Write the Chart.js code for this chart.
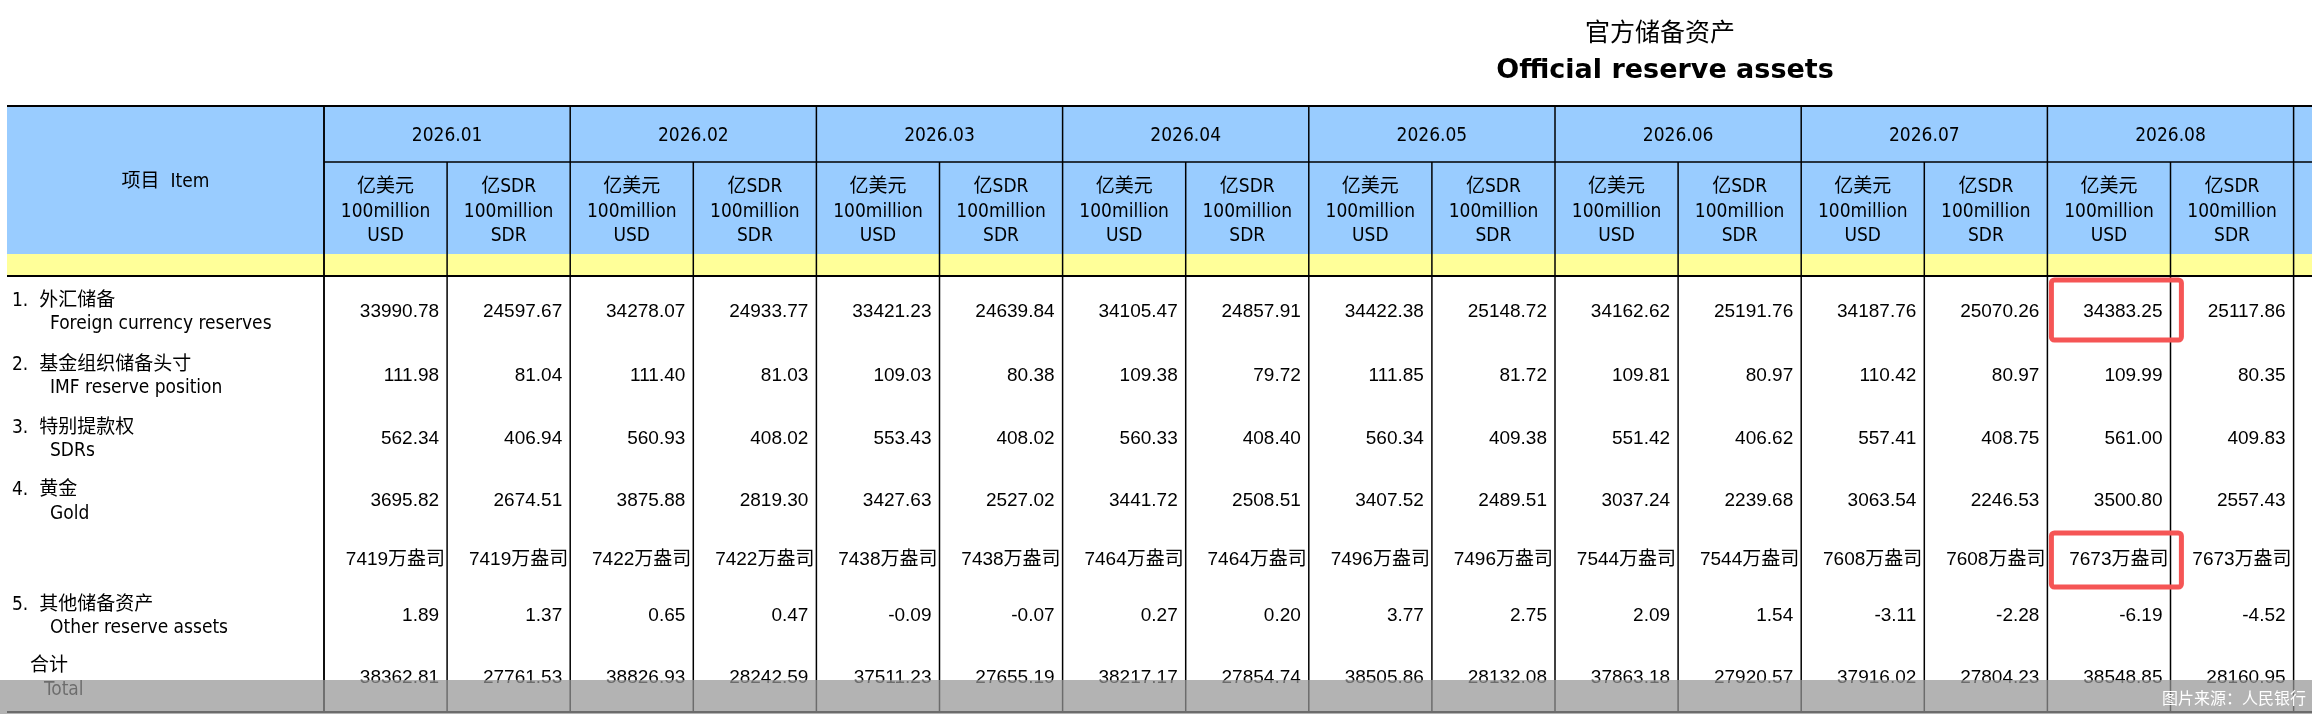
<!DOCTYPE html>
<html>
<head>
<meta charset="utf-8">
<script src="https://cdn.jsdelivr.net/npm/chart.js@4/dist/chart.umd.min.js"></script>
<style>
  body { margin: 0; background: #fff; }
  canvas { display: block; }
</style>
</head>
<body>
<canvas id="chart" width="2312" height="714"></canvas>
<script>
const months = ['2026.01', '2026.02', '2026.03', '2026.04', '2026.05', '2026.06', '2026.07', '2026.08'];
const fxUsd = [33990.78, 34278.07, 33421.23, 34105.47, 34422.38, 34162.62, 34187.76, 34383.25];
const fxSdr = [24597.67, 24933.77, 24639.84, 24857.91, 25148.72, 25191.76, 25070.26, 25117.86];
const imfUsd = [111.98, 111.40, 109.03, 109.38, 111.85, 109.81, 110.42, 109.99];
const imfSdr = [81.04, 81.03, 80.38, 79.72, 81.72, 80.97, 80.97, 80.35];
const sdrsUsd = [562.34, 560.93, 553.43, 560.33, 560.34, 551.42, 557.41, 561.00];
const sdrsSdr = [406.94, 408.02, 408.02, 408.40, 409.38, 406.62, 408.75, 409.83];
const goldUsd = [3695.82, 3875.88, 3427.63, 3441.72, 3407.52, 3037.24, 3063.54, 3500.80];
const goldSdr = [2674.51, 2819.30, 2527.02, 2508.51, 2489.51, 2239.68, 2246.53, 2557.43];
const goldOz = [7419, 7422, 7438, 7464, 7496, 7544, 7608, 7673];
const otherUsd = [1.89, 0.65, -0.09, 0.27, 3.77, 2.09, -3.11, -6.19];
const otherSdr = [1.37, 0.47, -0.07, 0.20, 2.75, 1.54, -2.28, -4.52];
const totalUsd = [38362.81, 38826.93, 37511.23, 38217.17, 38505.86, 37863.18, 37916.02, 38548.85];
const totalSdr = [27761.53, 28242.59, 27655.19, 27854.74, 28132.08, 27920.57, 27804.23, 28160.95];
const rowLabelsCn = ['1.  外汇储备', '2.  基金组织储备头寸', '3.  特别提款权', '4.  黄金', '', '5.  其他储备资产', '合计'];
const rowLabelsEn = ['Foreign currency reserves', 'IMF reserve position', 'SDRs', 'Gold', '', 'Other reserve assets', 'Total'];

// rows of the body: [usd, sdr, format]
const bodyRows = [
  [fxUsd, fxSdr, 'num'],
  [imfUsd, imfSdr, 'num'],
  [sdrsUsd, sdrsSdr, 'num'],
  [goldUsd, goldSdr, 'num'],
  [goldOz, goldOz, 'oz'],
  [otherUsd, otherSdr, 'num'],
  [totalUsd, totalSdr, 'num']
];

// layout (in canvas units)
const TABLE_L = 7, ITEM_R = 324, MONTH_W = 246.2;
const Y_TOP = 106, Y_H1 = 162, Y_H2 = 254, Y_YEL = 276, Y_BOT = 712;
const rowY = [312, 376, 439, 501, 560, 616, 678];
const labelOff = [[-11, 12], [-11, 12], [-11, 12], [-11, 13], null, [-11, 12], [-12, 12]];
const highlights = [[7, 0], [7, 4]]; // [month index, body row], usd column

const points = [];
months.forEach((m, i) => {
  bodyRows.forEach((r, j) => {
    points.push({ x: ITEM_R + MONTH_W * i + MONTH_W / 4, y: rowY[j] });
    points.push({ x: ITEM_R + MONTH_W * i + MONTH_W * 3 / 4, y: rowY[j] });
  });
});

const NUM_FONT = '"Liberation Sans", Arial, sans-serif';
const HEAD_FONT = '"DejaVu Sans Condensed", "DejaVu Sans", "Noto Sans CJK SC", sans-serif';
const CJK = '"Noto Sans CJK SC", sans-serif';

const tablePlugin = {
  id: 'table',
  beforeDatasetsDraw(chart) {
    const ctx = chart.ctx;
    const sx = chart.scales.x, sy = chart.scales.y;
    const X = v => sx.getPixelForValue(v);
    const Y = v => sy.getPixelForValue(v);
    const right = X(2312);
    const monthL = i => X(ITEM_R + MONTH_W * i);

    ctx.save();
    // backgrounds
    ctx.fillStyle = '#99ccff';
    ctx.fillRect(X(TABLE_L), Y(Y_TOP), right - X(TABLE_L), Y(Y_H2) - Y(Y_TOP));
    ctx.fillStyle = '#ffff99';
    ctx.fillRect(X(TABLE_L), Y(Y_H2), right - X(TABLE_L), Y(Y_YEL) - Y(Y_H2));

    // lines
    ctx.strokeStyle = '#000';
    ctx.lineWidth = 2;
    const hline = (y, x0, x1) => { ctx.beginPath(); ctx.moveTo(x0, Y(y)); ctx.lineTo(x1, Y(y)); ctx.stroke(); };
    const vline = (x, y0, y1) => { ctx.beginPath(); ctx.moveTo(X(x), Y(y0)); ctx.lineTo(X(x), Y(y1)); ctx.stroke(); };
    hline(Y_TOP, X(TABLE_L), right);
    hline(Y_YEL, X(TABLE_L), right);
    hline(Y_BOT, X(TABLE_L), right);
    ctx.lineWidth = 1.5;
    hline(Y_H1, monthL(0), right);
    vline(ITEM_R, Y_TOP, Y_BOT);
    for (let i = 0; i <= months.length; i++) {
      vline(ITEM_R + MONTH_W * i, Y_TOP, Y_BOT);
      if (i < months.length) vline(ITEM_R + MONTH_W * i + MONTH_W / 2, Y_H1, Y_BOT);
    }

    // header text
    ctx.fillStyle = '#000';
    ctx.textAlign = 'center';
    ctx.textBaseline = 'middle';
    ctx.font = '19px ' + HEAD_FONT;
    ctx.fillText('项目  Item', X((TABLE_L + ITEM_R) / 2), Y(182));
    months.forEach((m, i) => {
      const l = ITEM_R + MONTH_W * i;
      ctx.font = '19px ' + HEAD_FONT;
      ctx.fillText(m, X(l + MONTH_W / 2), Y(136));
      [['亿美元', 'USD'], ['亿SDR', 'SDR']].forEach(([a, b], k) => {
        const cx = X(l + MONTH_W / 4 + k * MONTH_W / 2);
        ctx.fillText(a, cx, Y(187));
        ctx.fillText('100million', cx, Y(212));
        ctx.fillText(b, cx, Y(236));
      });
    });

    // row labels
    ctx.textAlign = 'left';
    rowLabelsCn.forEach((t, j) => {
      if (!labelOff[j]) return;
      const cnX = j === 6 ? 30 : 12, enX = j === 6 ? 44 : 50;
      ctx.font = '19px ' + HEAD_FONT;
      ctx.fillText(t, X(cnX), Y(rowY[j] + labelOff[j][0]));
      ctx.fillText(rowLabelsEn[j], X(enX), Y(rowY[j] + labelOff[j][1]));
    });

    // values
    ctx.textAlign = 'right';
    months.forEach((m, i) => {
      bodyRows.forEach(([usd, sdr, fmt], j) => {
        [usd, sdr].forEach((arr, k) => {
          const r = ITEM_R + MONTH_W * i + MONTH_W / 2 * (k + 1);
          const v = arr[i];
          if (fmt === 'oz') {
            ctx.font = '19px ' + NUM_FONT + ', ' + CJK;
            ctx.fillText(v + '万盎司', X(r - 2), Y(rowY[j]));
          } else {
            ctx.font = '19px ' + NUM_FONT;
            ctx.fillText(v.toFixed(2), X(r - 8), Y(rowY[j]));
          }
        });
      });
    });

    // red highlight boxes
    ctx.strokeStyle = '#f55555';
    ctx.lineWidth = 5;
    highlights.forEach(([i, j]) => {
      const l = ITEM_R + MONTH_W * i;
      const h = j === 0 ? 60 : 54;
      ctx.beginPath();
      ctx.roundRect(X(l + 4), Y(rowY[j] - h / 2 - (j === 0 ? 2 : 0)), X(l + 134) - X(l + 4), Y(rowY[j] + h / 2) - Y(rowY[j] - h / 2), 3);
      ctx.stroke();
    });

    // footer bar
    ctx.fillStyle = 'rgba(150,150,150,0.72)';
    ctx.fillRect(0, Y(680), right, Y(714) - Y(680));
    ctx.fillStyle = '#fff';
    ctx.font = '16px ' + CJK;
    ctx.textAlign = 'right';
    ctx.fillText('图片来源：人民银行', X(2306), Y(698));

    // title
    ctx.fillStyle = '#000';
    ctx.textAlign = 'center';
    ctx.font = '25px ' + CJK;
    ctx.fillText('官方储备资产', X(1660), Y(31));
    ctx.font = 'bold 27px "DejaVu Sans", sans-serif';
    ctx.fillText('Official reserve assets', X(1665), Y(71));
    ctx.restore();
  }
};

new Chart(document.getElementById('chart'), {
  type: 'scatter',
  data: { datasets: [{ data: points, pointRadius: 0 }] },
  options: {
    responsive: false,
    animation: false,
    devicePixelRatio: 1,
    layout: { padding: 0 },
    plugins: { legend: { display: false }, tooltip: { enabled: false } },
    scales: {
      x: { type: 'linear', min: 0, max: 2312, display: false },
      y: { type: 'linear', min: 0, max: 714, reverse: true, display: false }
    }
  },
  plugins: [tablePlugin]
});
</script>
</body>
</html>
